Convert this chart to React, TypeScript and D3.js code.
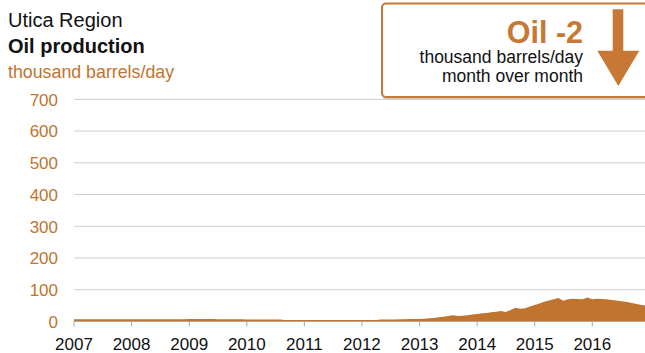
import React from "react";
import * as d3 from "d3";

const years = [2007, 2008, 2009, 2010, 2011, 2012, 2013, 2014, 2015, 2016];
const yTicks = [0, 100, 200, 300, 400, 500, 600, 700];

// monthly oil production, thousand barrels/day, Jan 2007 .. Dec 2016
const oil2007 = [7, 7, 7, 7, 7, 7, 7, 7, 7, 7, 7, 7];
const oil2008 = [7, 7, 7, 7, 7, 7, 7, 7, 7, 7, 7, 7];
const oil2009 = [8, 8, 8, 8, 8, 8, 7, 7, 7, 7, 7, 7];
const oil2010 = [6, 6, 6, 6, 6, 6, 6, 6, 5, 5, 5, 5];
const oil2011 = [5, 5, 5, 5, 5, 5, 5, 5, 5, 5, 5, 5];
const oil2012 = [5, 5, 5, 5, 6, 6, 6, 6, 7, 7, 8, 8];
const oil2013 = [8, 9, 10, 11, 13, 15, 17, 20, 17, 18, 20, 22];
const oil2014 = [24, 26, 27, 29, 31, 33, 30, 36, 43, 40, 42, 47];
const oil2015 = [52, 57, 62, 66, 70, 74, 65, 70, 72, 71, 70, 76];
const oil2016 = [70, 72, 71, 70, 68, 66, 64, 62, 59, 56, 53, 50];

const values = [
  ...oil2007, ...oil2008, ...oil2009, ...oil2010, ...oil2011,
  ...oil2012, ...oil2013, ...oil2014, ...oil2015, ...oil2016,
];
const data = values.map((v, i) => ({ date: new Date(2007, i, 1), v }));

const ORANGE = "#bf742f";
const BOX_ORANGE = "#c77834";
const FONT = "'Liberation Sans', Arial, sans-serif";

export default function App() {
  const W = 645;
  const H = 353;
  const x = d3
    .scaleTime()
    .domain([new Date(2007, 0, 1), new Date(2017, 0, 1)])
    .range([74, 650]);
  const y = d3.scaleLinear().domain([0, 700]).range([321.5, 99.3]);

  const area = d3
    .area<{ date: Date; v: number }>()
    .x((d) => x(d.date))
    .y0(y(0))
    .y1((d) => y(d.v));

  return (
    <svg
      width={W}
      height={H}
      style={{ position: "absolute", left: 0, top: 0, fontFamily: FONT }}
    >
      <rect width={W} height={H} fill="#fff" />
      {/* titles */}
      <text x={8} y={27} fontSize={20} fill="#111">Utica Region</text>
      <text x={8} y={53} fontSize={20} fontWeight="bold" fill="#111">Oil production</text>
      <text x={8} y={78} fontSize={17.8} fill={ORANGE}>thousand barrels/day</text>

      {/* gridlines */}
      {yTicks.map((t) => (
        <g key={t}>
          {t > 0 && (
            <line x1={74} x2={W} y1={y(t)} y2={y(t)} stroke="#cfcfcf" strokeWidth={1} />
          )}
          <text x={58} y={y(t) + 6.3} fontSize={17} textAnchor="end" fill={ORANGE}>
            {t}
          </text>
        </g>
      ))}

      {/* area */}
      <path d={area(data) || ""} fill={ORANGE} />

      {/* x axis */}
      <line x1={74} x2={W} y1={y(0)} y2={y(0)} stroke="#aaa" strokeWidth={1} />
      {years.map((yr) => {
        const px = x(new Date(yr, 0, 1));
        return (
          <g key={yr}>
            <line x1={px} x2={px} y1={y(0)} y2={y(0) + 5} stroke="#aaa" strokeWidth={1} />
            <text x={px} y={350} fontSize={17} textAnchor="middle" fill="#111">
              {yr}
            </text>
          </g>
        );
      })}

      {/* callout box */}
      <rect x={383} y={5} width={280} height={94} rx={4} fill="none" stroke="#ccc" strokeWidth={2} />
      <rect x={382} y={3.5} width={280} height={93.5} rx={4} fill="#fff" stroke={BOX_ORANGE} strokeWidth={2} />
      <text x={583} y={43} fontSize={30.5} fontWeight="bold" textAnchor="end" fill={BOX_ORANGE}>
        Oil -2
      </text>
      <text x={583} y={63} fontSize={17.5} textAnchor="end" fill="#111">thousand barrels/day</text>
      <text x={583} y={82} fontSize={17.5} textAnchor="end" fill="#111">month over month</text>
      <path
        d="M612.7,9.3 L623.3,9.3 L623.3,50.7 L639.3,50.7 L618.3,86 L597.3,50.7 L612.7,50.7 Z"
        fill={BOX_ORANGE}
      />
    </svg>
  );
}
